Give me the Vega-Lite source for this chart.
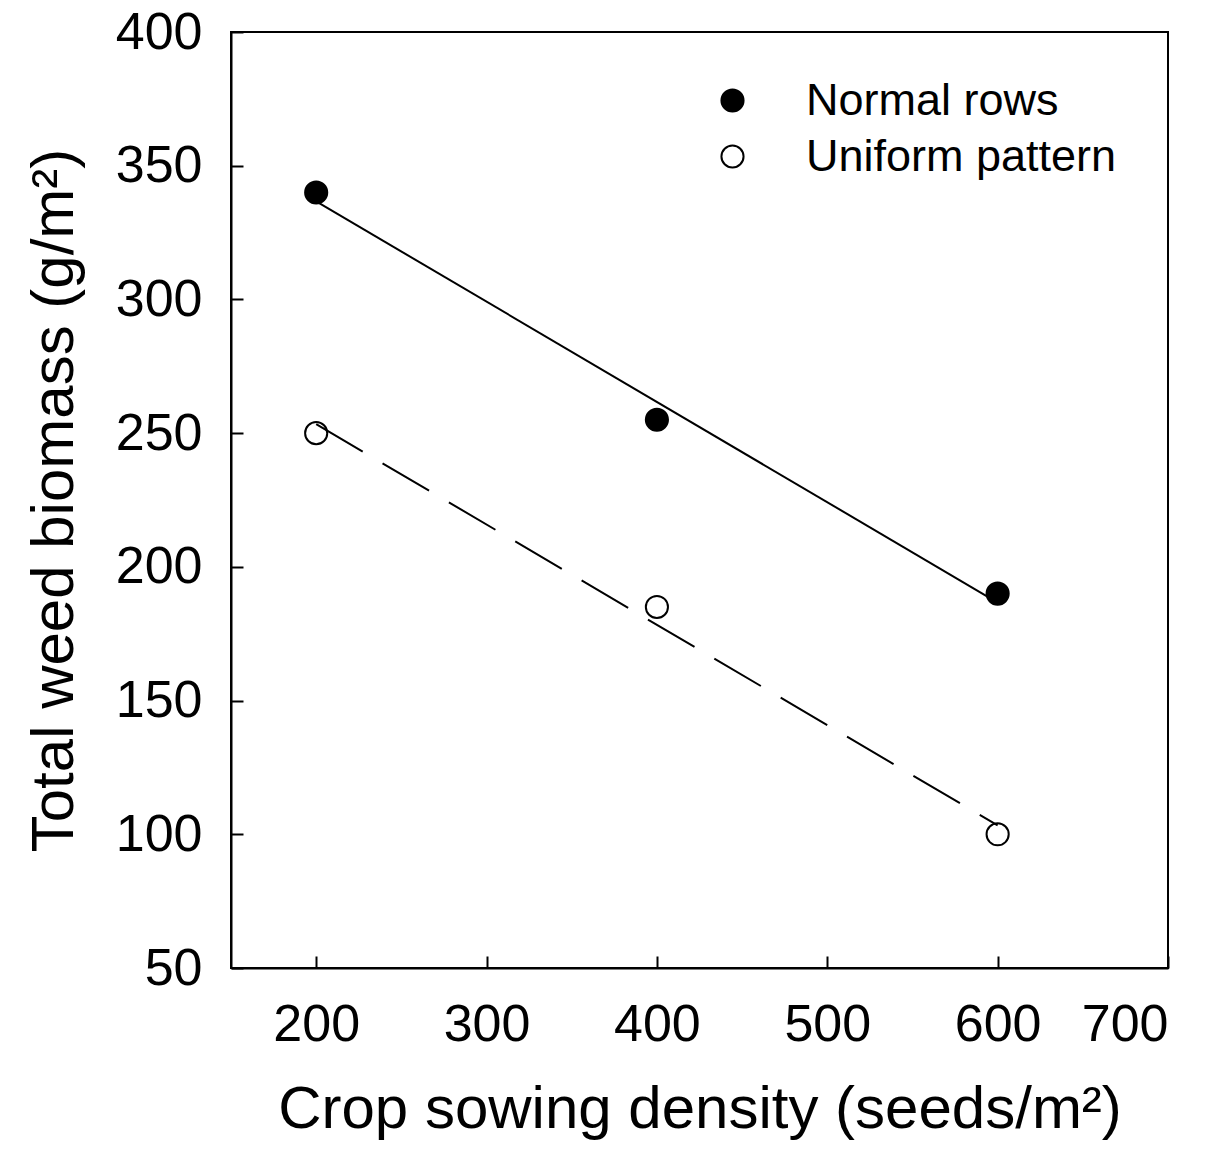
{
  "$schema": "https://vega.github.io/schema/vega-lite/v6.json",
  "autosize": "none",
  "width": 937,
  "height": 936,
  "padding": {"left": 231, "top": 32, "right": 50, "bottom": 189},
  "background": "white",
  "config": {
    "font": "Liberation Sans",
    "view": {"stroke": "black", "strokeWidth": 2},
    "axis": {
      "grid": false,
      "domainColor": "black",
      "domainWidth": 2,
      "tickColor": "black",
      "tickWidth": 2,
      "tickSize": -12,
      "labelColor": "black",
      "labelFont": "Liberation Sans",
      "labelFontSize": 52,
      "titleColor": "black",
      "titleFont": "Liberation Sans",
      "titleFontSize": 60,
      "titleFontWeight": "normal"
    }
  },
  "data": {
    "values": [
      {"density": 200, "biomass": 340, "series": "Normal rows"},
      {"density": 400, "biomass": 255, "series": "Normal rows"},
      {"density": 600, "biomass": 190, "series": "Normal rows"},
      {"density": 200, "biomass": 250, "series": "Uniform pattern"},
      {"density": 400, "biomass": 185, "series": "Uniform pattern"},
      {"density": 600, "biomass": 100, "series": "Uniform pattern"}
    ]
  },
  "layer": [
    {
      "mark": {"type": "circle", "size": 490, "stroke": "black", "strokeWidth": 2, "opacity": 1},
      "encoding": {
        "x": {
          "field": "density", "type": "quantitative",
          "scale": {"domain": [150, 700], "nice": false, "zero": false},
          "axis": {"values": [200, 300, 400, 500, 600, 700], "labelPadding": 43, "title": "Crop sowing density (seeds/m²)", "titlePadding": 30}
        },
        "y": {
          "field": "biomass", "type": "quantitative",
          "scale": {"domain": [50, 400], "nice": false, "zero": false},
          "axis": {"values": [50, 100, 150, 200, 250, 300, 350, 400], "labelPadding": 41, "title": "Total weed biomass (g/m²)", "titlePadding": 30}
        },
        "fill": {
          "field": "series", "type": "nominal",
          "scale": {"domain": ["Normal rows", "Uniform pattern"], "range": ["black", "white"]},
          "legend": {
            "title": null,
            "orient": "none",
            "legendX": 479,
            "legendY": 46,
            "padding": 0,
            "symbolType": "circle",
            "symbolSize": 490,
            "symbolStrokeColor": "black",
            "symbolStrokeWidth": 2,
            "labelFont": "Liberation Sans",
            "labelFontSize": 45,
            "labelColor": "black",
            "labelOffset": 51,
            "rowPadding": 10,
            "labelLimit": 0
          }
        }
      }
    },
    {
      "transform": [
        {"filter": {"field": "series", "equal": "Normal rows"}},
        {"regression": "biomass", "on": "density"}
      ],
      "mark": {"type": "line", "stroke": "black", "strokeWidth": 2},
      "encoding": {
        "x": {"field": "density", "type": "quantitative"},
        "y": {"field": "biomass", "type": "quantitative"}
      }
    },
    {
      "transform": [
        {"filter": {"field": "series", "equal": "Uniform pattern"}},
        {"regression": "biomass", "on": "density"}
      ],
      "mark": {"type": "line", "stroke": "black", "strokeWidth": 2, "strokeDash": [54, 23]},
      "encoding": {
        "x": {"field": "density", "type": "quantitative"},
        "y": {"field": "biomass", "type": "quantitative"}
      }
    }
  ]
}
